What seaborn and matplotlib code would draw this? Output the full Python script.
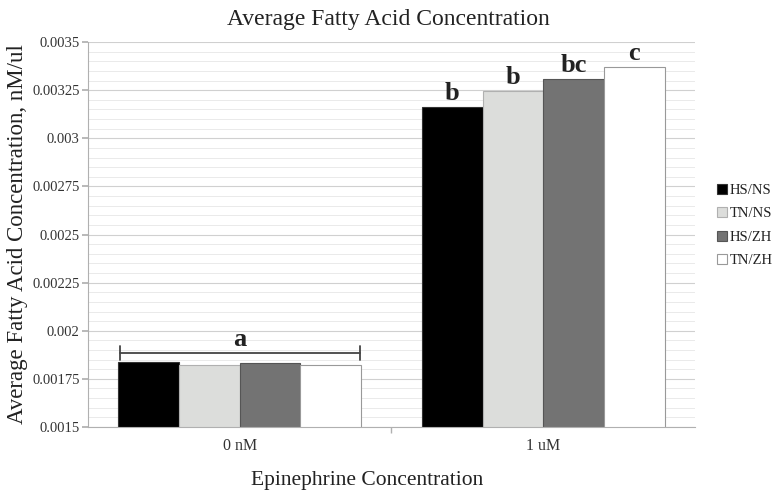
import matplotlib
matplotlib.use("Agg")
import matplotlib.pyplot as plt
import seaborn as sns
import pandas as pd
import numpy as np
from matplotlib.ticker import MultipleLocator, FuncFormatter
from matplotlib.patches import Patch

concentrations = ["0 nM", "1 uM"]
groups = ["HS/NS", "TN/NS", "HS/ZH", "TN/ZH"]
hs_ns = [0.001838, 0.003162]
tn_ns = [0.001823, 0.003245]
hs_zh = [0.001833, 0.003308]
tn_zh = [0.001822, 0.003372]
letters_1um = ["b", "b", "bc", "c"]
letter_0nm = "a"

colors = ["#000000", "#dcdddb", "#737373", "#ffffff"]
edges = ["#333333", "#b0b0b0", "#555555", "#999999"]

rows = []
for g, vals in zip(groups, [hs_ns, tn_ns, hs_zh, tn_zh]):
    for c, v in zip(concentrations, vals):
        rows.append({"conc": c, "group": g, "value": v})
df = pd.DataFrame(rows)

sns.set_theme(style="white")
plt.rcParams["font.family"] = ["Liberation Serif", "DejaVu Serif"]

fig = plt.figure(figsize=(7.76, 4.99), dpi=100)
ax = fig.add_axes([0.1134, 0.1443, 0.7822, 0.7715])

sns.barplot(data=df, x="conc", y="value", hue="group", order=concentrations,
            hue_order=groups, palette=colors, width=0.8, ax=ax, legend=False,
            errorbar=None, saturation=1)

for i, cont in enumerate(ax.containers):
    for p in cont:
        p.set_edgecolor(edges[i])
        p.set_linewidth(0.8)

ax.set_xlim(-0.5, 1.5)
ax.set_ylim(0.0015, 0.0035)
ax.yaxis.set_major_locator(MultipleLocator(0.00025))
ax.yaxis.set_minor_locator(MultipleLocator(0.00005))
ax.yaxis.set_major_formatter(FuncFormatter(lambda v, p: "%g" % round(v, 6)))
ax.grid(True, which="major", axis="y", color="#d0d0d0", linewidth=0.8)
ax.grid(True, which="minor", axis="y", color="#e6e6e6", linewidth=0.6)
ax.set_axisbelow(True)

for s in ["top", "right"]:
    ax.spines[s].set_visible(False)
for s in ["left", "bottom"]:
    ax.spines[s].set_color("#b0b0b0")
    ax.spines[s].set_linewidth(0.8)

ax.tick_params(axis="y", which="major", left=True, length=4, color="#b0b0b0",
               labelsize=10.5, labelcolor="#333333", pad=2)
ax.tick_params(axis="y", which="minor", left=False)
ax.set_xticks([0, 1])
ax.set_xticklabels(concentrations)
ax.set_xticks([0.5], minor=True)
ax.tick_params(axis="x", which="major", bottom=False, labelsize=11.5, labelcolor="#333333", pad=2)
ax.tick_params(axis="x", which="minor", bottom=True, length=4, color="#b0b0b0")

ax.set_xlabel("")
fig.text(367 / 776, 1 - 480 / 499, "Epinephrine Concentration", fontsize=15.5,
         color="#222222", ha="center", va="center")
ax.set_ylabel("Average Fatty Acid Concentration, nM/ul", fontsize=16.5, color="#222222", labelpad=3)
fig.suptitle("Average Fatty Acid Concentration", fontsize=17, color="#222222", y=0.982)

for i, cont in enumerate(ax.containers):
    p = cont[1]
    ax.text(p.get_x() + p.get_width() / 2, p.get_height() + 0.00001, letters_1um[i],
            ha="center", va="bottom", fontsize=19, fontweight="bold", color="#222222")

left = ax.containers[0][0].get_x()
right = ax.containers[-1][0].get_x() + ax.containers[-1][0].get_width()
top0 = max(c[0].get_height() for c in ax.containers)
yb = top0 + 0.000045
cap = 0.000036
ax.plot([left + 0.005, right - 0.005], [yb, yb], color="#444444", lw=1.3)
ax.plot([left + 0.005, left + 0.005], [yb - cap, yb + cap], color="#444444", lw=1.3)
ax.plot([right - 0.005, right - 0.005], [yb - cap, yb + cap], color="#444444", lw=1.3)
ax.text((left + right) / 2, yb + 0.00001, letter_0nm, ha="center", va="bottom",
        fontsize=19, fontweight="bold", color="#222222")

handles = [Patch(facecolor=c, edgecolor=e, linewidth=0.8) for c, e in zip(colors, edges)]
fig.legend(handles, groups, loc="center left", bbox_to_anchor=(0.907, 0.548),
           frameon=False, fontsize=10.5, handlelength=0.7, handleheight=0.7,
           handletextpad=0.2, labelspacing=0.7, labelcolor="#222222")

fig.savefig("out.png", dpi=100)
